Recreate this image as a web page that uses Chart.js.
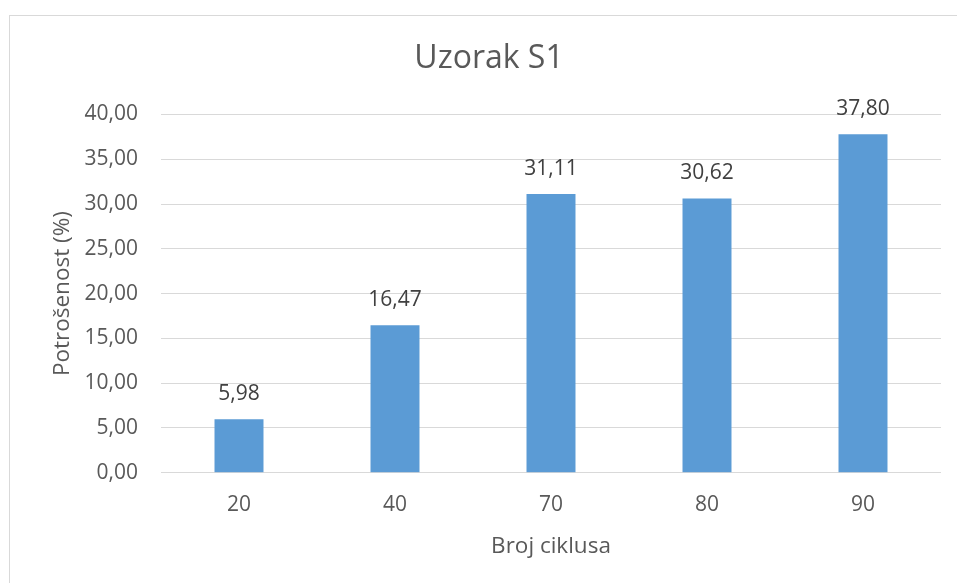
<!DOCTYPE html>
<html>
<head>
<meta charset="utf-8">
<script src="https://cdn.jsdelivr.net/npm/chart.js@4"></script>
<style>
  html, body { margin: 0; padding: 0; background: #ffffff; }
  #wrap { position: relative; width: 957px; height: 583px; overflow: hidden; }
  #frame { position: absolute; left: 9px; top: 15px; width: 1200px; height: 1200px; border: 1px solid #d9d9d9; box-sizing: border-box; }
  canvas { position: absolute; left: 0; top: 0; }
</style>
</head>
<body>
<div id="wrap">
  <div id="frame"></div>
  <canvas id="c" width="957" height="583"></canvas>
</div>
<script>
const chartTitle = 'Uzorak S1';
const categories = ['20', '40', '70', '80', '90'];
const values = [5.98, 16.47, 31.11, 30.62, 37.80];
const yTicks = [0, 5, 10, 15, 20, 25, 30, 35, 40];

const FONT = "'Open Sans', 'Liberation Sans', sans-serif";
const fmt = v => v.toFixed(2).replace('.', ',');

const labelPlugin = {
  id: 'barLabels',
  afterDatasetsDraw(chart) {
    const ctx = chart.ctx;
    const meta = chart.getDatasetMeta(0);
    ctx.save();
    ctx.font = "21px " + FONT;
    ctx.fillStyle = '#404040';
    ctx.textAlign = 'center';
    ctx.textBaseline = 'middle';
    meta.data.forEach((bar, i) => {
      ctx.fillText(fmt(values[i]), bar.x, bar.y - 25);
    });
    ctx.restore();
  }
};

const titlePlugin = {
  id: 'topTitle',
  afterDraw(chart) {
    const ctx = chart.ctx;
    ctx.save();
    ctx.font = "32px " + FONT;
    ctx.fillStyle = '#595959';
    ctx.textAlign = 'center';
    ctx.textBaseline = 'middle';
    ctx.fillText(chartTitle, 489, 59);
    ctx.restore();
  }
};

new Chart(document.getElementById('c'), {
  type: 'bar',
  data: {
    labels: categories,
    datasets: [{
      data: values,
      backgroundColor: '#5b9bd5',
      borderWidth: 0,
      categoryPercentage: 1.0,
      barPercentage: 0.314
    }]
  },
  options: {
    responsive: false,
    animation: false,
    devicePixelRatio: 1,
    layout: { padding: { left: 0, right: 16, top: 114.5, bottom: 0 } },
    plugins: {
      legend: { display: false },
      tooltip: { enabled: false },
      title: { display: false }
    },
    scales: {
      x: {
        grid: { display: false, drawTicks: false },
        border: { display: false },
        ticks: {
          color: '#595959',
          padding: 20,
          font: { family: FONT, size: 21, lineHeight: 1.2 }
        },
        title: {
          display: true,
          text: 'Broj ciklusa',
          color: '#595959',
          font: { family: FONT, size: 22.5, lineHeight: 1.2 },
          padding: { top: 0, bottom: 23 }
        },
        afterFit(scale) { scale.height = 110.3; }
      },
      y: {
        min: 0,
        max: 40,
        afterBuildTicks(scale) { scale.ticks = yTicks.map(v => ({ value: v })); },
        grid: { color: '#d9d9d9', lineWidth: 1, drawTicks: false },
        border: { display: false },
        ticks: {
          color: '#595959',
          padding: 23,
          font: { family: FONT, size: 21, lineHeight: 1.2 },
          callback: v => fmt(v)
        },
        title: {
          display: true,
          text: 'Potrošenost (%)',
          color: '#595959',
          font: { family: FONT, size: 22.5, lineHeight: 1.2 },
          padding: { top: 49, bottom: 0 }
        },
        afterFit(scale) { scale.width = 161; }
      }
    }
  },
  plugins: [labelPlugin, titlePlugin]
});
</script>
</body>
</html>
